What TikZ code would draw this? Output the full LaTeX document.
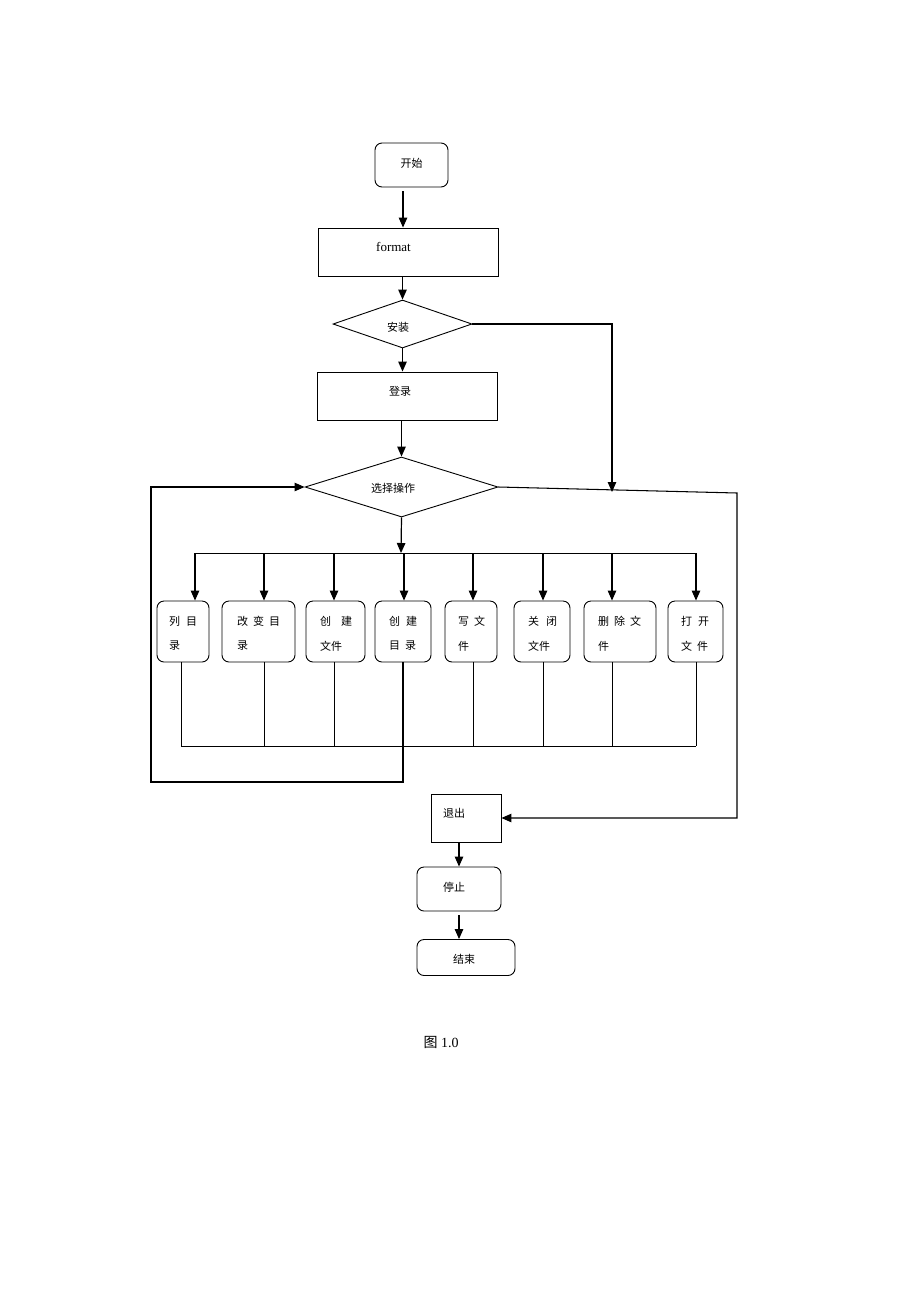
\documentclass[tikz,border=0pt]{standalone}
\usepackage{fontspec}
\setmainfont{Liberation Serif}
\newfontfamily\cjk{Noto Sans CJK SC}
\usetikzlibrary{arrows.meta,shapes.geometric}
\begin{document}
\begin{tikzpicture}[x=1pt,y=-1pt,
  box/.style={draw,line width=0.9pt,inner sep=0pt},
  rbox/.style={box,rounded corners=7pt},
  dia/.style={draw,line width=0.9pt,shape=diamond,inner sep=0pt},
  lbl/.style={inner sep=0pt,font=\cjk\fontsize{11}{12}\selectfont},
  arr/.style={line width=1.2pt,-{Triangle[length=10pt,width=8.5pt]}},
  route/.style={line width=1.05pt,-{Triangle[length=10pt,width=8.5pt]}},
  con/.style={line width=1.0pt},
  thin/.style={line width=0.85pt}]
\useasboundingbox[fill=white] (0,0) rectangle (920,1302);

% main column
\node[rbox,minimum width=73pt,minimum height=44pt] (start) at (411.5,165) {};
\node[lbl] (tstart) at (411.5,163) {开始};
\node[box,minimum width=180pt,minimum height=48pt] (fmt) at (408,252) {};
\node[inner sep=0pt,font=\fontsize{13}{15}\selectfont] (tfmt) at (393.5,247) {format};
\node[dia,minimum width=139pt,minimum height=48pt] (az) at (402.5,324) {};
\node[lbl] (taz) at (398,327) {安装};
\node[box,minimum width=180pt,minimum height=48pt] (dl) at (407,396) {};
\node[lbl] (tdl) at (400,391) {登录};
\node[dia,minimum width=193pt,minimum height=60pt] (xz) at (401.5,487) {};
\node[lbl] (txz) at (393,488) {选择操作};

% operation boxes
\node[rbox,minimum width=52pt,minimum height=61pt] (b1) at (183,631.5) {};
\node[rbox,minimum width=73pt,minimum height=61pt] (b2) at (258.5,631.5) {};
\node[rbox,minimum width=59pt,minimum height=61pt] (b3) at (335.5,631.5) {};
\node[rbox,minimum width=56pt,minimum height=61pt] (b4) at (403,631.5) {};
\node[rbox,minimum width=52pt,minimum height=61pt] (b5) at (471,631.5) {};
\node[rbox,minimum width=56pt,minimum height=61pt] (b6) at (542,631.5) {};
\node[rbox,minimum width=72pt,minimum height=61pt] (b7) at (620,631.5) {};
\node[rbox,minimum width=55pt,minimum height=61pt] (b8) at (695.5,631.5) {};

\node[lbl,anchor=west] (t1a) at (169,621) {列\hspace{6pt}目};
\node[lbl,anchor=west] (t1b) at (169,646) {录};
\node[lbl,anchor=west] (t2a) at (237,621) {改\hspace{5pt}变\hspace{5pt}目};
\node[lbl,anchor=west] (t2b) at (237,646) {录};
\node[lbl,anchor=west] (t3a) at (320,621) {创\hspace{10pt}建};
\node[lbl,anchor=west] (t3b) at (320,646) {文件};
\node[lbl,anchor=west] (t4a) at (389,621) {创\hspace{6pt}建};
\node[lbl,anchor=west] (t4b) at (389,646) {目\hspace{5pt}录};
\node[lbl,anchor=west] (t5a) at (458,621) {写\hspace{5pt}文};
\node[lbl,anchor=west] (t5b) at (458,646) {件};
\node[lbl,anchor=west] (t6a) at (528,621) {关\hspace{7pt}闭};
\node[lbl,anchor=west] (t6b) at (528,646) {文件};
\node[lbl,anchor=west] (t7a) at (598,621) {删\hspace{5pt}除\hspace{5pt}文};
\node[lbl,anchor=west] (t7b) at (598,646) {件};
\node[lbl,anchor=west] (t8a) at (681,621) {打\hspace{6pt}开};
\node[lbl,anchor=west] (t8b) at (681,646) {文\hspace{5pt}件};

% exit part
\node[box,minimum width=70pt,minimum height=48pt] (tc) at (466,818) {};
\node[lbl] (ttc) at (454,813) {退出};
\node[rbox,minimum width=84pt,minimum height=44pt] (tz) at (459,889) {};
\node[lbl] (ttz) at (454,887) {停止};
\node[rbox,minimum width=98pt,minimum height=36pt] (js) at (466,957.5) {};
\node[lbl] (tjs) at (464,959) {结束};

\node[inner sep=0pt,font=\fontsize{14}{16}\selectfont] (cap) at (441,1042) {{\cjk 图} 1.0};

% connectors
\coordinate (s1) at (403,191);
\draw[arr] (s1) -- (s1 |- fmt.north);
\draw[arr] (az.north |- fmt.south) -- (az.north);
\draw[arr] (az.south) -- (az.south |- dl.north);
\draw[arr] (xz.north |- dl.south) -- (xz.north);
\coordinate (r1) at (612,324);
\coordinate (r2) at (612,492);
\draw[route] (az.east) -- (r1) -- (r2);
\coordinate (r3) at (737,493);
\draw[route] (xz.east) -- (r3) -- (r3 |- tc.east) -- (tc.east);

% bus to operations
\coordinate (bus) at (401,553);
\draw[arr] (xz.south) -- (bus);
\draw[con] (195,553) -- (696,553);
\draw[arr] (195,553) -- (195,0 |- b1.north);
\draw[arr] (264,553) -- (264,0 |- b2.north);
\draw[arr] (334,553) -- (334,0 |- b3.north);
\draw[arr] (404,553) -- (404,0 |- b4.north);
\draw[arr] (473,553) -- (473,0 |- b5.north);
\draw[arr] (543,553) -- (543,0 |- b6.north);
\draw[arr] (612,553) -- (612,0 |- b7.north);
\draw[arr] (696,553) -- (696,0 |- b8.north);

% collecting lines
\draw[thin] (181,0 |- b1.south) -- (181,746);
\draw[thin] (264,0 |- b2.south) -- (264,746);
\draw[thin] (334,0 |- b3.south) -- (334,746);
\draw[thin] (473,0 |- b5.south) -- (473,746);
\draw[thin] (543,0 |- b6.south) -- (543,746);
\draw[thin] (612,0 |- b7.south) -- (612,746);
\draw[thin] (696,0 |- b8.south) -- (696,746);
\draw[thin] (181,746) -- (696,746);

% loop back
\coordinate (l1) at (403,782);
\coordinate (l2) at (151,782);
\draw[route] (b4.south) -- (l1) -- (l2) -- (l2 |- xz.west) -- (xz.west);

% lower arrows
\draw[arr] (459,0 |- tc.south) -- (459,0 |- tz.north);
\coordinate (s2) at (459,915);
\draw[arr] (s2) -- (s2 |- js.north);
\end{tikzpicture}
\end{document}
